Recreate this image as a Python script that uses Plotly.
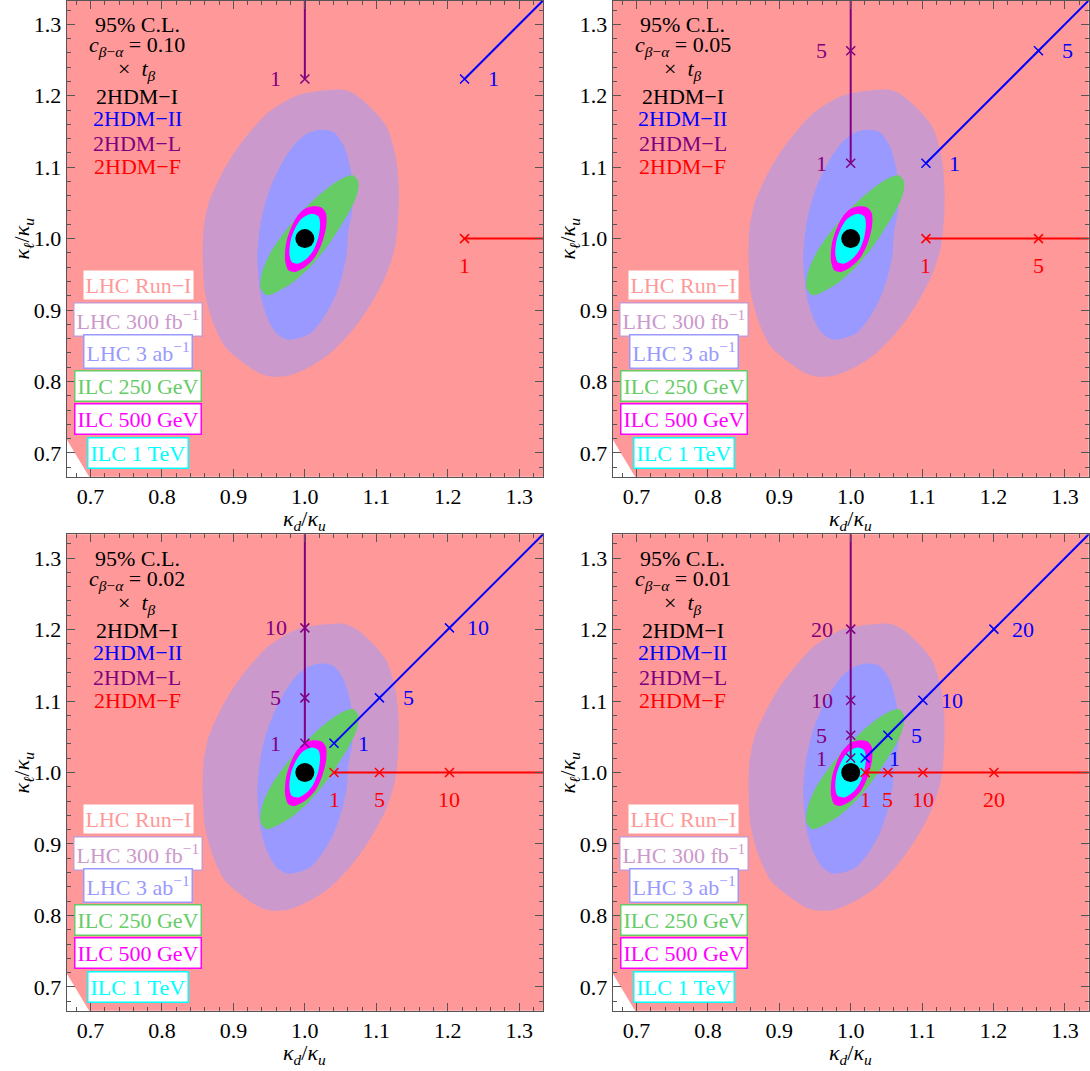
import plotly.graph_objects as go

# ---------------- data ----------------
AX_RANGE = [0.6667, 1.3333]
LINE_END = 1.45  # lines continue beyond the frame

C_LABELS = ["0.10", "0.05", "0.02", "0.01"]
TB_LABELS = [["1"], ["1", "5"], ["1", "5", "10"], ["1", "5", "10", "20"]]
RATIOS = [[1.2235],
          [1.1054, 1.2630],
          [1.0408, 1.1044, 1.2024],
          [1.0202, 1.0521, 1.1011, 1.2006]]

# LHC Run-I allowed region (covers everything except the lower-left corner)
RUN1_X = [0.62, 0.62, 1.45, 1.45, 0.726, 0.62]
RUN1_Y = [0.797, 1.45, 1.45, 0.62, 0.62, 0.797]

L300_X = [0.9933, 1.0540, 1.0727, 1.0983, 1.1146, 1.1263, 1.1310, 1.1310, 1.1263, 1.1146,
          1.0983, 1.0773, 1.0586, 1.0353, 1.0073, 0.9793, 0.9560, 0.9373, 0.9093, 0.8883,
          0.8720, 0.8603, 0.8570, 0.8580, 0.8650, 0.8813, 0.9000, 0.9210, 0.9466, 0.9746, 0.9933]
L300_Y = [1.2018, 1.2083, 1.2004, 1.1771, 1.1561, 1.1188, 1.0815, 1.0349, 0.9883, 0.9510,
          0.9184, 0.8858, 0.8625, 0.8391, 0.8205, 0.8088, 0.8065, 0.8112, 0.8298, 0.8485,
          0.8811, 0.9231, 0.9697, 1.0116, 1.0489, 1.0862, 1.1188, 1.1468, 1.1748, 1.1934, 1.2018]

L3AB_X = [1.0213, 1.0400, 1.0540, 1.0633, 1.0671, 1.0657, 1.0610, 1.0586, 1.0516, 1.0400,
          1.0236, 1.0073, 0.9886, 0.9746, 0.9606, 0.9490, 0.9396, 0.9350, 0.9336, 0.9373,
          0.9443, 0.9560, 0.9700, 0.9863, 1.0026, 1.0213]
L3AB_Y = [1.1524, 1.1491, 1.1305, 1.1002, 1.0676, 1.0349, 1.0116, 0.9790, 0.9464, 0.9137,
          0.8858, 0.8671, 0.8601, 0.8587, 0.8671, 0.8858, 0.9137, 0.9464, 0.9790, 1.0163,
          1.0489, 1.0816, 1.1095, 1.1328, 1.1468, 1.1524]

I250_X = [1.0680, 1.0750, 1.0727, 1.0633, 1.0493, 1.0306, 1.0073, 0.9840, 0.9606, 0.9466,
          0.9382, 0.9396, 0.9513, 0.9700, 0.9933, 1.0166, 1.0400, 1.0586, 1.0680]
I250_Y = [1.0885, 1.0792, 1.0606, 1.0396, 1.0163, 0.9883, 0.9603, 0.9394, 0.9254, 0.9207,
          0.9300, 0.9510, 0.9790, 1.0070, 1.0349, 1.0582, 1.0769, 1.0871, 1.0885]

I500_X = [1.0120, 1.0236, 1.0297, 1.0297, 1.0236, 1.0143, 1.0003, 0.9863, 0.9770, 0.9723,
          0.9737, 0.9793, 0.9886, 1.0003, 1.0120]
I500_Y = [1.0452, 1.0433, 1.0349, 1.0163, 0.9930, 0.9743, 0.9603, 0.9533, 0.9557, 0.9697,
          0.9930, 1.0116, 1.0303, 1.0420, 1.0452]

I1T_X = [1.0096, 1.0190, 1.0213, 1.0190, 1.0120, 1.0026, 0.9910, 0.9816, 0.9784, 0.9802,
         0.9863, 0.9956, 1.0096]
I1T_Y = [1.0349, 1.0312, 1.0209, 1.0023, 0.9837, 0.9720, 0.9650, 0.9673, 0.9790, 0.9977,
         1.0140, 1.0280, 1.0349]

SM_POINT = (1.0, 1.0)

LEGEND_LABELS = ["LHC Run\u2212I", "LHC 300 fb<sup>\u22121</sup>", "LHC 3 ab<sup>\u22121</sup>",
                 "ILC 250 GeV", "ILC 500 GeV", "ILC 1 TeV"]
MODEL_LABELS = ["2HDM\u2212I", "2HDM\u2212II", "2HDM\u2212L", "2HDM\u2212F"]

# ---------------- styles ----------------
FONT = "Liberation Serif"
FS = 22
C_RUN1 = "#FF9999"
C_300 = "#CC99CC"
C_3AB = "#9999FF"
C_250 = "#66CC66"
C_500 = "#FF00FF"
C_1T = "#00FFFF"
C_II = "#0000FF"
C_L = "#800080"
C_F = "#FF0000"
AXC = "#555555"
REGION_COLORS = [C_RUN1, C_300, C_3AB, C_250, C_500, C_1T]
MODEL_COLORS = ["black", C_II, C_L, C_F]

W, H = 1090, 1071
# pixel boxes of the 4 plot areas (left, right, top, bottom)
PANELS = [(66.7, 543.0, 0.5, 476.7), (612.7, 1088.7, 0.5, 476.7),
          (66.7, 543.0, 534.3, 1010.7), (612.7, 1088.7, 534.3, 1010.7)]

fig = go.Figure()
annotations = []

regions = [(RUN1_X, RUN1_Y, "linear"), (L300_X, L300_Y, "spline"), (L3AB_X, L3AB_Y, "spline"),
           (I250_X, I250_Y, "spline"), (I500_X, I500_Y, "spline"), (I1T_X, I1T_Y, "spline")]

for k in range(4):
    sx = "" if k == 0 else str(k + 1)
    xa, ya = "x" + sx, "y" + sx
    l, r, t, b = PANELS[k]
    axis_common = dict(range=AX_RANGE, showgrid=False, zeroline=False, showline=True,
                       linecolor=AXC, linewidth=1, mirror="ticks", ticks="inside",
                       ticklen=8, tickwidth=1, tickcolor=AXC, tick0=0, dtick=0.1,
                       tickformat=".1f",
                       minor=dict(ticks="inside", ticklen=4, tickwidth=1, tickcolor=AXC,
                                  tick0=0, dtick=0.02, showgrid=False),
                       tickfont=dict(family=FONT, size=FS, color="black"))
    fig.layout["xaxis" + sx] = dict(axis_common, domain=[l / W, r / W], anchor=ya)
    fig.layout["yaxis" + sx] = dict(axis_common, domain=[1 - b / H, 1 - t / H], anchor=xa)

    for (rx, ry, shape), col in zip(regions, REGION_COLORS):
        fig.add_trace(go.Scatter(x=rx, y=ry, mode="lines", fill="toself", fillcolor=col,
                                 line=dict(width=0, color=col, shape=shape, smoothing=0.8),
                                 hoverinfo="skip", showlegend=False, xaxis=xa, yaxis=ya))

    fig.add_trace(go.Scatter(x=[SM_POINT[0]], y=[SM_POINT[1]], mode="markers",
                             marker=dict(color="black", size=19), showlegend=False,
                             xaxis=xa, yaxis=ya))

    rat = RATIOS[k]
    ones = [1.0] * len(rat)
    lines = [
        (ones + [1.0], rat + [LINE_END], C_L, -29, 0),      # 2HDM-L
        (rat + [LINE_END], rat + [LINE_END], C_II, 29, 0),  # 2HDM-II
        (rat + [LINE_END], ones + [1.0], C_F, 0, -27),      # 2HDM-F
    ]
    for lx, ly, col, dx, dy in lines:
        fig.add_trace(go.Scatter(x=lx, y=ly, mode="lines", line=dict(color=col, width=2),
                                 showlegend=False, xaxis=xa, yaxis=ya))
        fig.add_trace(go.Scatter(x=lx[:-1], y=ly[:-1], mode="markers",
                                 marker=dict(symbol="x-thin", size=9,
                                             line=dict(width=1.5, color=col)),
                                 showlegend=False, xaxis=xa, yaxis=ya))
        for px_, py_, lab in zip(lx[:-1], ly[:-1], TB_LABELS[k]):
            annotations.append(dict(x=px_, y=py_, xref=xa, yref=ya, text=lab,
                                    showarrow=False, xshift=dx, yshift=dy,
                                    font=dict(family=FONT, size=FS, color=col)))

    xd, yd = xa + " domain", ya + " domain"
    # text block
    block = ["95% C.L.",
             "<i>c</i><sub><i>\u03b2</i>\u2212<i>\u03b1</i></sub> = " + C_LABELS[k],
             "\u00d7  <i>t</i><sub><i>\u03b2</i></sub>"] + MODEL_LABELS
    block_cols = ["black", "black", "black"] + MODEL_COLORS
    block_y = [0.9497, 0.9035, 0.8532, 0.7986, 0.7525, 0.7000, 0.6518]
    for txt, col, yy in zip(block, block_cols, block_y):
        annotations.append(dict(x=0.1476, y=yy, xref=xd, yref=yd, text=txt, showarrow=False,
                                xanchor="center", yanchor="middle",
                                font=dict(family=FONT, size=FS, color=col)))
    # legend boxes
    leg_y = [0.4021, 0.3308, 0.2626, 0.1913, 0.1210, 0.0497]
    for txt, col, yy in zip(LEGEND_LABELS, REGION_COLORS, leg_y):
        annotations.append(dict(x=0.1497, y=yy, xref=xd, yref=yd, text=txt, showarrow=False,
                                xanchor="center", yanchor="middle", bgcolor="white",
                                bordercolor=col, borderwidth=1.5, borderpad=2,
                                font=dict(family=FONT, size=FS, color=col)))
    # axis titles
    annotations.append(dict(x=0.5, y=-0.09, xref=xd, yref=yd, showarrow=False,
                            text="<i>\u03ba<sub>d</sub></i>/<i>\u03ba<sub>u</sub></i>",
                            xanchor="center", yanchor="middle",
                            font=dict(family=FONT, size=FS, color="black")))
    annotations.append(dict(x=-0.092, y=0.5, xref=xd, yref=yd, showarrow=False,
                            text="<i>\u03ba<sub>\u2113</sub></i>/<i>\u03ba<sub>u</sub></i>",
                            textangle=-90, xanchor="center", yanchor="middle",
                            font=dict(family=FONT, size=FS, color="black")))

fig.update_layout(width=W, height=H, margin=dict(l=0, r=0, t=0, b=0),
                  paper_bgcolor="white", plot_bgcolor="white",
                  showlegend=False, annotations=annotations,
                  font=dict(family=FONT, size=FS, color="black"))

fig.write_html("out.html", config={"displayModeBar": False},
               post_script="document.body.style.margin='0';"
                           "document.body.style.overflow='hidden';")
